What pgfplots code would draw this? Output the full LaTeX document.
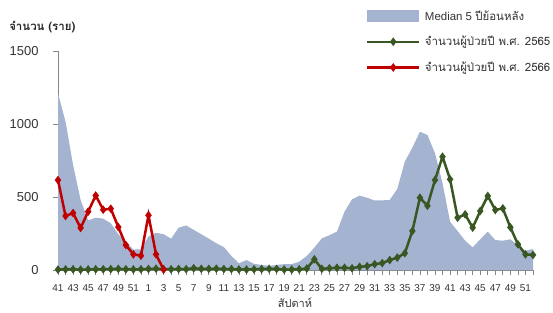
\documentclass[border=0pt]{standalone}
\usepackage{pgfplots}
\pgfplotsset{compat=1.18}
\usepackage{pgfplotstable}
\usepackage{fontspec}
\setmainfont{Liberation Sans}
\newfontfamily\thai[Script=Thai]{Loma}
\definecolor{areac}{RGB}{164,180,208}
\definecolor{gline}{RGB}{56,87,35}
\definecolor{rline}{RGB}{192,0,0}
\definecolor{axc}{RGB}{134,134,134}

\pgfplotsset{
 arealeg/.style={legend image code/.code={\fill[##1] (0bp,-6bp) rectangle (52bp,6bp);}},
 lineleg/.style={legend image code/.code={\draw[mark repeat=2,mark phase=2,##1] plot coordinates {(0bp,0bp) (26bp,0bp) (52bp,0bp)};}},
}

\pgfplotstableread{
x med y65
0 1210 3
1 1015 4
2 720 5
3 480 2
4 340 4
5 358 5
6 352 5
7 320 6
8 245 8
9 194 5
10 140 4
11 142 5
12 230 7
13 255 9
14 245 6
15 215 5
16 290 7
17 305 6
18 275 12
19 245 8
20 215 8
21 183 9
22 157 7
23 96 6
24 46 4
25 68 3
26 42 5
27 35 6
28 28 8
29 35 7
30 40 3
31 40 3
32 57 5
33 96 10
34 153 73
35 217 8
36 238 12
37 263 15
38 400 15
39 484 12
40 509 22
41 495 26
42 476 40
43 477 47
44 480 68
45 555 85
46 742 115
47 838 267
48 947 495
49 925 440
50 800 616
51 595 776
52 331 621
53 267 358
54 201 381
55 155 290
56 210 404
57 263 507
58 205 411
59 201 422
60 210 292
61 171 176
62 132 107
63 144 103
}\data

\pgfplotstableread{
x y66
0 616
1 370
2 390
3 288
4 400
5 510
6 413
7 420
8 294
9 171
10 107
11 98
12 375
13 107
14 3
}\datared

\begin{document}
\begin{tikzpicture}
\begin{axis}[
 scale only axis, width=475bp, height=219bp,
 xmin=0, xmax=63, ymin=0, ymax=1500,
 axis lines=left,
 axis line style={draw=axc, line width=0.8pt, -},
 ytick={0,500,1000,1500},
 xtick={0,2,...,62},
 xticklabels={41,43,45,47,49,51,1,3,5,7,9,11,13,15,17,19,21,23,25,27,29,31,33,35,37,39,41,43,45,47,49,51},
 minor xtick={1,3,...,63},
 tick style={draw=axc, line width=0.8pt},
 major tick length=5bp, minor tick length=5bp,
 tick align=outside,
 /pgf/number format/1000 sep={},
 /pgf/number format/assume math mode=true,
 yticklabel style={font=\fontsize{13}{15}\selectfont, text=black!80, xshift=-11bp},
 xticklabel style={font=\fontsize{10}{12}\selectfont, text=black!80, yshift=-6bp},
 clip=false,
 legend style={draw=none, fill=none, at={(rel axis cs:0.648,1.195)}, anchor=north west,
   font=\fontsize{11.5}{13}\selectfont, text=black!80, row sep=10.5bp, inner sep=0pt,
   nodes={inner xsep=4.5bp}},
 legend cell align=left,
]
\coordinate (o) at (rel axis cs:0,0);
\addplot[fill=areac, draw=none, arealeg]
  table[x=x,y=med]{\data} \closedcycle;
\addlegendentry{Median 5 {\thai ปีย้อนหลัง}}
\addplot[gline, line width=2.5bp, mark=diamond*, mark size=2.3bp, lineleg]
  table[x=x,y=y65]{\data};
\addlegendentry{\thai จำนวนผู้ป่วยปี พ.ศ. 2565}
\addplot[rline, line width=2.5bp, mark=diamond*, mark size=2.3bp, lineleg]
  table[x=x,y=y66]{\datared};
\addlegendentry{\thai จำนวนผู้ป่วยปี พ.ศ. 2566}
\node[anchor=west, font=\thai\bfseries\fontsize{11.5}{14}\selectfont, text=black!85] at (rel axis cs:-0.11,1.11) {จำนวน (ราย)};
\node[font=\thai\fontsize{11}{13}\selectfont, text=black!80] at (rel axis cs:0.499,-0.15) {สัปดาห์};
\end{axis}
\pgfresetboundingbox
\path[use as bounding box] ([shift={(-58bp,-43bp)}]o) rectangle ([shift={(495bp,270bp)}]o);
\end{tikzpicture}
\end{document}
